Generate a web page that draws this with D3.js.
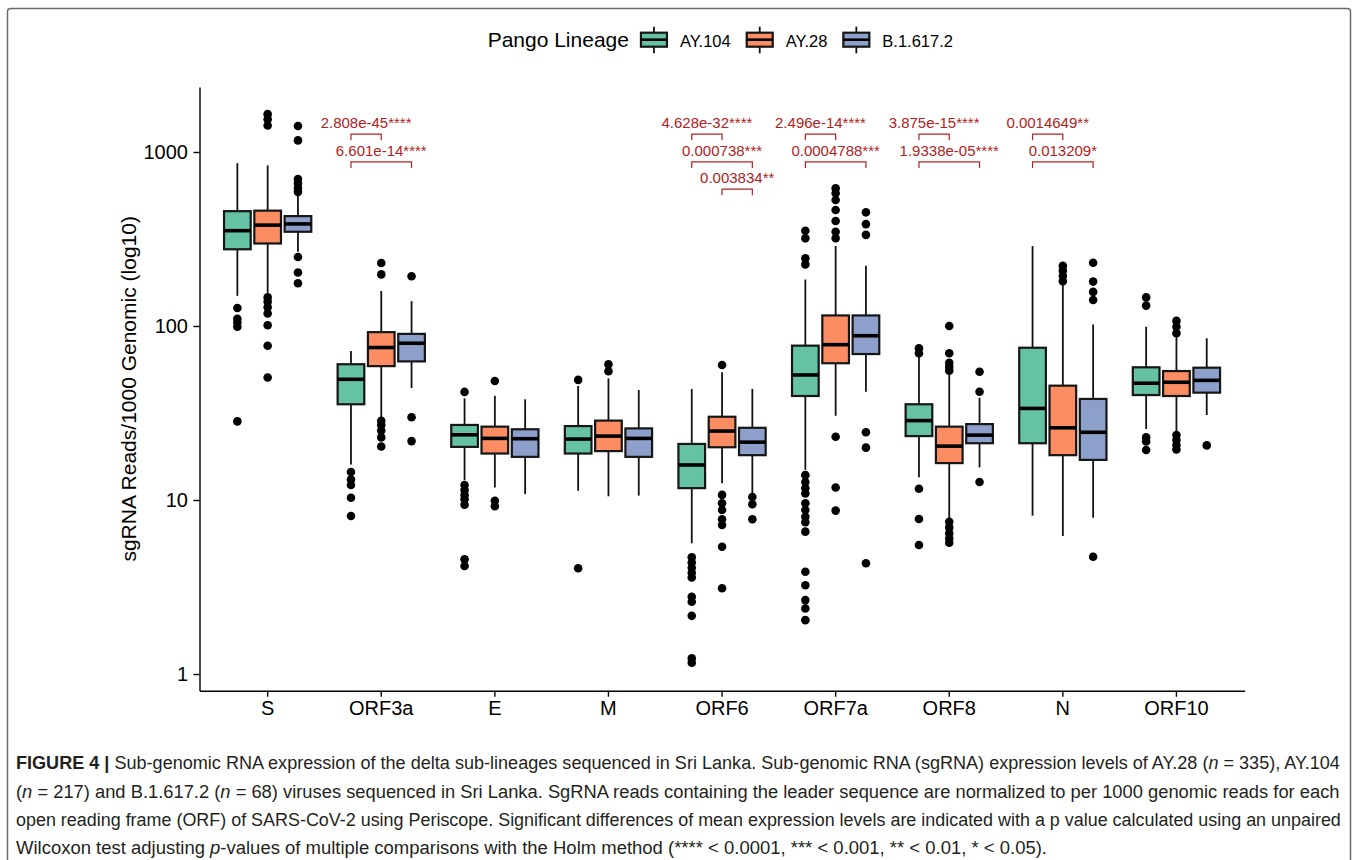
<!DOCTYPE html>
<html>
<head>
<meta charset="utf-8">
<script src="https://cdn.jsdelivr.net/npm/d3@7"></script>
<style>
  body { margin: 0; background: #fff; }
  svg { display: block; font-family: "Liberation Sans", Arial, sans-serif; }
</style>
</head>
<body>
<svg id="fig" width="1358" height="860"></svg>
<script>
const genes = ["S", "ORF3a", "E", "M", "ORF6", "ORF7a", "ORF8", "N", "ORF10"];
const lineages = ["AY.104", "AY.28", "B.1.617.2"];
const lineageColors = ["#66c2a5", "#fc8d62", "#8da0cb"];
const yTicks = [1, 10, 100, 1000];

// box statistics, one row per gene, values in lineage order
const lowerWhisker = [[149, 155, 267], [16, 29.6, 44], [13, 11.8, 10.8], [11.3, 10.5, 10.6], [5.64, 12.5, 10.9],
  [14.9, 30.5, 41.9], [13.5, 7.85, 15.4], [8.13, 6.21, 7.91], [25.6, 24.9, 30.8]];
const q1 = [[276, 298, 348], [35.5, 58.8, 62.6], [20.2, 18.5, 17.7], [18.5, 19.1, 17.7], [11.7, 20.1, 18.1],
  [39.6, 61.1, 69], [23.3, 16.3, 21.2], [21.2, 18.1, 17], [40.1, 39.6, 41.4]];
const median = [[353, 380, 386], [49.4, 75.2, 79.6], [23.7, 22.6, 22.5], [22.4, 23.3, 22.6], [15.9, 24.9, 21.5],
  [52.3, 78.1, 87.9], [28.6, 20.4, 23.6], [33.6, 26, 24.5], [46.9, 47.5, 48.7]];
const q3 = [[457, 460, 428], [60.3, 92.2, 90.1], [27, 26.4, 25.5], [26.6, 28.6, 25.8], [21, 30.1, 26],
  [77.1, 115, 115], [35.5, 26.4, 27.3], [75, 45.4, 38.1], [57.9, 55.1, 57.6]];
const upperWhisker = [[863, 837, 569], [71.8, 159, 139], [38.4, 39.7, 37.9], [45.2, 50, 42.9], [43.5, 54.2, 43.5],
  [185, 288, 222], [66.6, 52.3, 38.7], [288, 176, 102], [99, 88.8, 85]];
const outliers = [
  [[127, 110, 105, 99, 28.3], [1650, 1540, 1420, 146, 138, 128, 118, 101, 77, 50.6], [1410, 1166, 700, 660, 620, 590, 249, 203, 176]],
  [[14.5, 13.1, 12.2, 10.3, 8.1], [230, 198, 28.5, 27, 25.1, 22.9, 20.3], [193, 29.9, 21.8]],
  [[41.8, 12.2, 11.4, 10.7, 10.1, 9.4, 4.56, 4.18], [48.3, 9.9, 9.2], []],
  [[49, 4.05], [60.2, 55], []],
  [[4.69, 4.37, 4.08, 3.82, 3.59, 2.78, 2.6, 2.16, 1.23, 1.16], [59.7, 10.7, 9.57, 8.77, 7.75, 7.18, 5.39, 3.11], [10.4, 9.45, 7.75]],
  [[353, 319, 245, 226, 13.9, 12.7, 11.7, 10.9, 9.57, 8.77, 8.02, 7.45, 6.58, 3.87, 3.24, 2.66, 2.38, 2.04],
   [618, 579, 530, 464, 401, 348, 319, 23.1, 11.8, 8.69], [450, 385, 334, 24.5, 20, 4.33]],
  [[74.5, 69.7, 11.6, 7.78, 5.51], [100, 69.7, 61.5, 58.3, 55.4, 7.5, 6.96, 6.43, 6.01, 5.68], [54.6, 41.9, 12.7]],
  [[], [222, 208, 194, 181], [231, 180, 157, 141, 4.72]],
  [[146, 131, 22.9, 21.7, 19.4], [107, 99, 90.8, 23.6, 22.1, 20.7, 19.5], [20.6]]
];

// pairwise Wilcoxon results (bracket height in data units)
const comparisons = [
  { gene: "ORF3a", from: 0, to: 1, label: "2.808e-45****", y: 1265 },
  { gene: "ORF3a", from: 0, to: 2, label: "6.601e-14****", y: 877 },
  { gene: "ORF6", from: 0, to: 1, label: "4.628e-32****", y: 1265 },
  { gene: "ORF6", from: 0, to: 2, label: "0.000738***", y: 877 },
  { gene: "ORF6", from: 1, to: 2, label: "0.003834**", y: 611 },
  { gene: "ORF7a", from: 0, to: 1, label: "2.496e-14****", y: 1265 },
  { gene: "ORF7a", from: 0, to: 2, label: "0.0004788***", y: 877 },
  { gene: "ORF8", from: 0, to: 1, label: "3.875e-15****", y: 1265 },
  { gene: "ORF8", from: 0, to: 2, label: "1.9338e-05****", y: 877 },
  { gene: "N", from: 0, to: 1, label: "0.0014649**", y: 1265 },
  { gene: "N", from: 0, to: 2, label: "0.013209*", y: 877 }
];

const svg = d3.select("#fig");

// outer frame
svg.append("rect")
    .attr("x", 7.5).attr("y", 8.5)
    .attr("width", 1343).attr("height", 870)
    .attr("rx", 3)
    .attr("fill", "none")
    .attr("stroke", "#6b6b6b")
    .attr("stroke-width", 1.5);

var plot = { left: 199.5, right: 1244.6, top: 87, bottom: 690.7 };

var x0 = d3.scaleBand()
    .domain(genes)
    .range([plot.left, plot.right])
    .paddingInner(0.2)
    .paddingOuter(0.2);
var x1 = d3.scaleBand()
    .domain(d3.range(lineages.length))
    .range([0, x0.bandwidth()]);
var boxW = x1.bandwidth() * 0.88;

var y = d3.scaleLog()
    .domain([0.802, 2363])
    .range([plot.bottom, plot.top]);

const cx = (gi, li) => x0(genes[gi]) + x1(li) + x1.bandwidth() / 2;

// boxes
var boxes = [];
genes.forEach((g, gi) => lineages.forEach((l, li) => boxes.push({ gi, li })));

var bg = svg.append("g");
bg.selectAll("line.whisk-lo")
    .data(boxes)
    .join("line")
    .attr("x1", d => cx(d.gi, d.li)).attr("x2", d => cx(d.gi, d.li))
    .attr("y1", d => y(lowerWhisker[d.gi][d.li]))
    .attr("y2", d => y(q1[d.gi][d.li]))
    .attr("stroke", "#111").attr("stroke-width", 1.8);
bg.selectAll("line.whisk-hi")
    .data(boxes)
    .join("line")
    .attr("x1", d => cx(d.gi, d.li)).attr("x2", d => cx(d.gi, d.li))
    .attr("y1", d => y(upperWhisker[d.gi][d.li]))
    .attr("y2", d => y(q3[d.gi][d.li]))
    .attr("stroke", "#111").attr("stroke-width", 1.8);

var bodies = svg.append("g");
bodies.selectAll("rect")
    .data(boxes)
    .join("rect")
    .attr("x", d => cx(d.gi, d.li) - boxW / 2)
    .attr("width", boxW)
    .attr("y", d => y(q3[d.gi][d.li]))
    .attr("height", d => y(q1[d.gi][d.li]) - y(q3[d.gi][d.li]))
    .attr("fill", d => lineageColors[d.li])
    .attr("stroke", "#161616")
    .attr("stroke-width", 2.2);
bodies.selectAll("line")
    .data(boxes)
    .join("line")
    .attr("x1", d => cx(d.gi, d.li) - boxW / 2)
    .attr("x2", d => cx(d.gi, d.li) + boxW / 2)
    .attr("y1", d => y(median[d.gi][d.li]))
    .attr("y2", d => y(median[d.gi][d.li]))
    .attr("stroke", "#000")
    .attr("stroke-width", 3.6);

// outlier points
var pts = [];
outliers.forEach((row, gi) => row.forEach((vals, li) => vals.forEach(v => pts.push({ gi, li, v }))));
svg.append("g").selectAll("circle")
    .data(pts)
    .join("circle")
    .attr("cx", d => cx(d.gi, d.li))
    .attr("cy", d => y(d.v))
    .attr("r", 4.3)
    .attr("fill", "#000");

// axes
var yAxis = svg.append("g")
    .attr("transform", "translate(" + plot.left + ",0)")
    .call(d3.axisLeft(y).tickValues(yTicks).tickFormat(d3.format("d")).tickSize(6).tickSizeOuter(0).tickPadding(5.5));
var xAxis = svg.append("g")
    .attr("transform", "translate(0," + plot.bottom + ")")
    .call(d3.axisBottom(x0).tickSize(6).tickSizeOuter(0).tickPadding(4));
[xAxis, yAxis].forEach(a => {
    a.selectAll("path, line").attr("stroke", "#000").attr("stroke-width", 1.4);
    a.selectAll("text").attr("fill", "#000").attr("font-size", 20)
        .attr("font-family", "'Liberation Sans', Arial, sans-serif");
});

svg.append("text")
    .attr("transform", "translate(135.5," + ((plot.top + plot.bottom) / 2) + ") rotate(-90)")
    .attr("text-anchor", "middle")
    .attr("font-size", 21)
    .attr("fill", "#000")
    .text("sgRNA Reads/1000 Genomic (log10)");

// significance brackets
var pv = svg.append("g");
comparisons.forEach(c => {
    var gi = genes.indexOf(c.gene);
    var xa = cx(gi, c.from), xb = cx(gi, c.to), yy = y(c.y);
    pv.append("path")
        .attr("d", "M" + xa + "," + (yy + 6) + "V" + yy + "H" + xb + "V" + (yy + 6))
        .attr("fill", "none")
        .attr("stroke", "#b22222")
        .attr("stroke-width", 1.2);
    pv.append("text")
        .attr("x", (xa + xb) / 2)
        .attr("y", yy - 6)
        .attr("text-anchor", "middle")
        .attr("font-size", 15)
        .attr("fill", "#b22222")
        .text(c.label);
});

// legend
var legend = svg.append("g");
var ltitle = legend.append("text")
    .attr("y", 47.3)
    .attr("font-size", 21)
    .attr("fill", "#000")
    .text("Pango Lineage");
var cursor = ltitle.node().getComputedTextLength() + 12;
lineages.forEach((name, j) => {
    var k = legend.append("g").attr("transform", "translate(" + cursor + ",0)");
    k.append("line").attr("x1", 13).attr("x2", 13).attr("y1", 26.7).attr("y2", 53.3)
        .attr("stroke", "#111").attr("stroke-width", 1.8);
    k.append("rect").attr("x", 0).attr("y", 32.7).attr("width", 26).attr("height", 14)
        .attr("fill", lineageColors[j]).attr("stroke", "#161616").attr("stroke-width", 2.2);
    k.append("line").attr("x1", 0).attr("x2", 26).attr("y1", 39.7).attr("y2", 39.7)
        .attr("stroke", "#000").attr("stroke-width", 2.6);
    var t = k.append("text").attr("x", 39).attr("y", 46.7)
        .attr("font-size", 16.5).attr("fill", "#000").text(name);
    cursor += 39 + t.node().getComputedTextLength() + 16;
});
cursor -= 16;
legend.attr("transform", "translate(" + (720.3 - cursor / 2) + ",0)");

// caption
const captionLines = [
    [["FIGURE 4 | ", "b"], ["Sub-genomic RNA expression of the delta sub-lineages sequenced in Sri Lanka. Sub-genomic RNA (sgRNA) expression levels of AY.28 ("], ["n", "i"], [" = 335), AY.104"]],
    [["("], ["n", "i"], [" = 217) and B.1.617.2 ("], ["n", "i"], [" = 68) viruses sequenced in Sri Lanka. SgRNA reads containing the leader sequence are normalized to per 1000 genomic reads for each"]],
    [["open reading frame (ORF) of SARS-CoV-2 using Periscope. Significant differences of mean expression levels are indicated with a p value calculated using an unpaired"]],
    [["Wilcoxon test adjusting "], ["p", "i"], ["-values of multiple comparisons with the Holm method (**** < 0.0001, *** < 0.001, ** < 0.01, * < 0.05)."]]
];
var capBase = [769, 797.5, 826, 854];
var capLeft = 16, capRight = 1341;
var scales = [];
captionLines.forEach((parts, i) => {
    var t = svg.append("text")
        .attr("font-size", 19)
        .attr("fill", "#231f20")
        .style("white-space", "pre");
    parts.forEach(p => {
        var s = t.append("tspan").text(p[0]);
        if (p[1] === "b") s.attr("font-weight", "bold");
        if (p[1] === "i") s.attr("font-style", "italic");
    });
    var w = t.node().getComputedTextLength();
    var sx = i < 3 ? (capRight - capLeft) / w : d3.mean(scales) * 1.02;
    scales.push(sx);
    t.attr("transform", "translate(" + capLeft + "," + capBase[i] + ") scale(" + sx + ",1)");
});
</script>
</body>
</html>
